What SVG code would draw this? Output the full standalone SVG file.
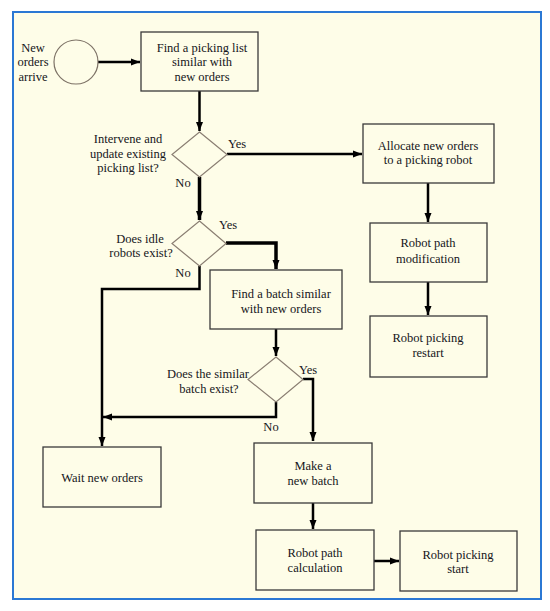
<svg xmlns="http://www.w3.org/2000/svg" width="550" height="611" viewBox="0 0 550 611">
<style>
.box{fill:#fefde8;stroke:#3a3a3a;stroke-width:1.3}
.dia{fill:#fefde8;stroke:#8a7e72;stroke-width:1.2}
.t{font-family:'Liberation Serif','DejaVu Serif',serif;font-size:12.5px;fill:#151520;text-anchor:middle}
.c{fill:none;stroke:#000;stroke-width:2.5;stroke-linejoin:miter}
.ct{fill:none;stroke:#000;stroke-width:3.5;stroke-linejoin:miter}
</style>
<defs>
<marker id="ah" markerUnits="userSpaceOnUse" markerWidth="10" markerHeight="8" refX="9" refY="4" orient="auto">
<path d="M0,0.5 L9,4 L0,7.5 Z" fill="#000"/>
</marker>
</defs>
<rect x="0" y="0" width="550" height="611" fill="#ffffff"/>
<rect id="frame" x="13" y="12" width="528" height="587" fill="#fefde8" stroke="#2b78d4" stroke-width="2"/>

<g id="connectors">
<line class="c" x1="98" y1="62" x2="140" y2="62" marker-end="url(#ah)"/>
<line class="c" x1="199.5" y1="91" x2="199.5" y2="131" marker-end="url(#ah)"/>
<line class="c" x1="227" y1="154" x2="362" y2="154" marker-end="url(#ah)"/>
<line class="ct" x1="199.5" y1="177" x2="199.5" y2="220" marker-end="url(#ah)"/>
<line class="c" x1="428" y1="183" x2="428" y2="222" marker-end="url(#ah)"/>
<line class="c" x1="428" y1="282" x2="428" y2="315" marker-end="url(#ah)"/>
<polyline class="ct" points="226,243 276,243 276,269" marker-end="url(#ah)"/>
<polyline class="c" points="199.5,266 199.5,289 102,289 102,446" marker-end="url(#ah)"/>
<line class="c" x1="276" y1="329" x2="276" y2="356" marker-end="url(#ah)"/>
<polyline class="c" points="303,379 313,379 313,441" marker-end="url(#ah)"/>
<polyline class="c" points="276,402 276,417 103,417" marker-end="url(#ah)"/>
<line class="c" x1="313" y1="503" x2="313" y2="529" marker-end="url(#ah)"/>
<line class="c" x1="374" y1="561" x2="399" y2="561" marker-end="url(#ah)"/>
</g>

<g font-family="Liberation Serif, DejaVu Serif, serif">
<g id="start">
<circle cx="76" cy="62" r="22" fill="#fefde8" stroke="#7d7266" stroke-width="1.2"/>
<text class="t" x="33" y="52">New</text>
<text class="t" x="33" y="66">orders</text>
<text class="t" x="33" y="81">arrive</text>
</g>

<g id="find-list">
<rect class="box" x="141" y="32" width="117" height="59"/>
<text class="t" x="202" y="52">Find a picking list</text>
<text class="t" x="202" y="66">similar with</text>
<text class="t" x="202" y="81">new orders</text>
</g>

<g id="decision-intervene">
<polygon class="dia" points="199.5,132 227,154.5 199.5,177 172,154.5"/>
<text class="t" x="128" y="143">Intervene and</text>
<text class="t" x="128" y="158">update existing</text>
<text class="t" x="128" y="172">picking list?</text>
<text class="t" x="237" y="148">Yes</text>
<text class="t" x="183" y="187">No</text>
</g>

<g id="allocate">
<rect class="box" x="363" y="124" width="131" height="59"/>
<text class="t" x="428" y="150">Allocate new orders</text>
<text class="t" x="428" y="164">to a picking robot</text>
</g>

<g id="path-modification">
<rect class="box" x="370" y="223" width="117" height="59"/>
<text class="t" x="428" y="247">Robot path</text>
<text class="t" x="428" y="263">modification</text>
</g>

<g id="picking-restart">
<rect class="box" x="370" y="316" width="117" height="61"/>
<text class="t" x="428" y="342">Robot picking</text>
<text class="t" x="428" y="357">restart</text>
</g>

<g id="decision-idle">
<polygon class="dia" points="199.5,221 226,243.5 199.5,266 172,243.5"/>
<text class="t" x="140" y="243">Does idle</text>
<text class="t" x="141" y="257">robots exist?</text>
<text class="t" x="228" y="229">Yes</text>
<text class="t" x="183" y="277">No</text>
</g>

<g id="find-batch">
<rect class="box" x="210" y="270" width="132" height="59"/>
<text class="t" x="281" y="298">Find a batch similar</text>
<text class="t" x="281" y="313">with new orders</text>
</g>

<g id="decision-batch">
<polygon class="dia" points="276,357 303,379.5 276,402 248,379.5"/>
<text class="t" x="208" y="378">Does the similar</text>
<text class="t" x="209" y="393">batch exist?</text>
<text class="t" x="308" y="374">Yes</text>
<text class="t" x="271" y="431">No</text>
</g>

<g id="wait">
<rect class="box" x="43" y="447" width="118" height="60"/>
<text class="t" x="102" y="482">Wait new orders</text>
</g>

<g id="make-batch">
<rect class="box" x="254" y="443" width="118" height="60"/>
<text class="t" x="313" y="470">Make a</text>
<text class="t" x="313" y="485">new batch</text>
</g>

<g id="path-calculation">
<rect class="box" x="256" y="530" width="118" height="60"/>
<text class="t" x="315" y="557">Robot path</text>
<text class="t" x="315" y="572">calculation</text>
</g>

<g id="picking-start">
<rect class="box" x="400" y="531" width="117" height="60"/>
<text class="t" x="458" y="559">Robot picking</text>
<text class="t" x="458" y="573">start</text>
</g>
</g>
</svg>
